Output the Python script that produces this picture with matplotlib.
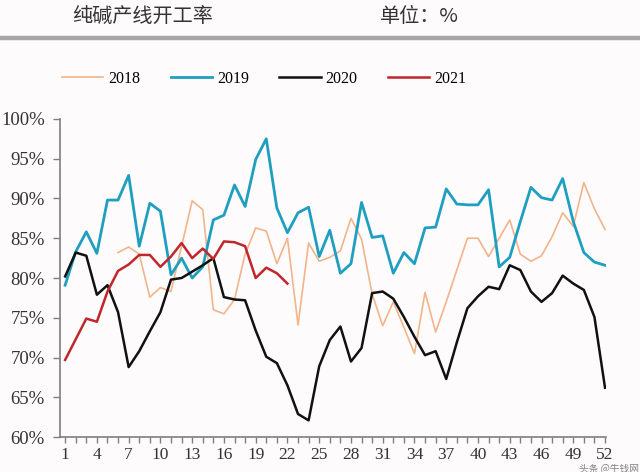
""" 纯碱产线开工率: weekly soda ash line utilisation, 2018-2021 """

import numpy as np
import matplotlib.pyplot as plt
from matplotlib.patches import Rectangle

plt.rcParams['font.family'] = ['Liberation Serif', 'DejaVu Serif']
CJK = ['Noto Sans CJK SC', 'DejaVu Sans']

# ---- data -------------------------------------------------------------
weeks = np.arange(1, 53)
week_ticks = list(range(1, 53, 3))

rate_2018 = [np.nan] * 5 + [
    83.2, 83.9, 83.0, 77.6, 78.8, 78.3, 84.0, 89.7, 88.6, 76.0,
    75.5, 77.3, 83.0, 86.3, 85.9, 81.8, 85.0, 74.1, 84.4, 82.1,
    82.6, 83.4, 87.5, 84.9, 78.0, 74.0, 77.0, 73.8, 70.5, 78.2,
    73.2, 77.0, 81.0, 85.0, 85.0, 82.7, 85.0, 87.3, 83.0, 82.1,
    82.8, 85.2, 88.2, 86.5, 92.0, 88.7, 86.1]

rate_2019 = [
    79.1, 83.3, 85.8, 83.1, 89.8, 89.8, 92.9, 84.0, 89.4, 88.4,
    80.4, 82.5, 80.0, 81.4, 87.3, 87.9, 91.7, 89.0, 94.9, 97.5,
    88.8, 85.7, 88.2, 88.9, 82.7, 86.0, 80.6, 81.8, 89.5, 85.1,
    85.3, 80.6, 83.2, 81.8, 86.3, 86.4, 91.2, 89.3, 89.2, 89.2,
    91.1, 81.4, 82.6, 87.1, 91.4, 90.1, 89.8, 92.5, 87.1, 83.2,
    82.0, 81.6]

rate_2020 = [
    80.2, 83.2, 82.8, 77.9, 79.1, 75.7, 68.8, 70.8, 73.3, 75.7,
    79.8, 80.0, 80.8, 81.6, 82.5, 77.6, 77.3, 77.2, 73.4, 70.1,
    69.3, 66.5, 62.9, 62.1, 68.9, 72.2, 73.9, 69.5, 71.2, 78.1,
    78.3, 77.4, 75.1, 72.6, 70.3, 70.8, 67.3, 71.9, 76.2, 77.7,
    78.9, 78.6, 81.6, 81.0, 78.3, 77.0, 78.1, 80.3, 79.3, 78.5,
    75.1, 66.2]

rate_2021 = [
    69.7, 72.3, 74.9, 74.5, 78.3, 80.9, 81.7, 82.9, 82.9, 81.4,
    82.7, 84.4, 82.5, 83.7, 82.4, 84.6, 84.5, 84.0, 80.0, 81.3,
    80.6, 79.3]

series = [('2018', rate_2018, '#F2B48A', 1.2),
          ('2019', rate_2019, '#1E9FC0', 2.0),
          ('2020', rate_2020, '#111111', 1.8),
          ('2021', rate_2021, '#C0262C', 1.8)]

# ---- figure ------------------------------------------------------------
fig = plt.figure(figsize=(6.4, 4.72), dpi=100, facecolor='#FDFBFC')
ax = fig.add_axes([0.094, 0.074, 0.853, 0.674], facecolor='#FDFBFC')

lines = []
for label, vals, color, lw in series:
    ln, = ax.plot(weeks[:len(vals)], vals, color=color, lw=lw, label=label)
    lines.append(ln)

ax.set_xlim(0.53, 52.1)
ax.set_ylim(60, 100)
ax.set_yticks(range(60, 101, 5))
ax.set_yticklabels([f'{v}%' for v in range(60, 101, 5)], fontsize=13.5)
ax.set_xticks(week_ticks)
ax.set_xticklabels([str(w) for w in week_ticks], fontsize=12.5)
ax.set_xticks(weeks, minor=True)

for side in ['top', 'right']:
    ax.spines[side].set_visible(False)
for side in ['left', 'bottom']:
    ax.spines[side].set_color('#7F7F7F')
    ax.spines[side].set_linewidth(1.2)
ax.tick_params(axis='both', which='both', color='#7F7F7F', width=1.0,
               colors='#333333', direction='out')
ax.tick_params(axis='y', length=5, pad=6)
ax.tick_params(axis='x', which='both', length=4, pad=3)

# header: title, unit and grey rule
fig.text(72 / 640, 1 - 16 / 472, '纯碱产线开工率', family=CJK, fontsize=14.5,
         color='#333333', va='center', ha='left')
fig.text(380 / 640, 1 - 16 / 472, '单位：%', family=CJK, fontsize=14.5,
         color='#333333', va='center', ha='left')
fig.add_artist(plt.Line2D([0, 1], [1 - 37.5 / 472] * 2, color='#A6A6A6',
                          lw=3.2, transform=fig.transFigure))
fig.add_artist(Rectangle((28 / 640, 1 - 39 / 472), 6 / 640, 3 / 472,
                         facecolor='white', edgecolor='none',
                         transform=fig.transFigure))

fig.legend(handles=lines, loc='center', bbox_to_anchor=(264 / 640, 1 - 79 / 472),
           ncol=4, frameon=False, fontsize=11.5, handlelength=2.6,
           handletextpad=0.3, columnspacing=1.9)

# watermark, kept clear of the week labels
fig.text(639 / 640, 1 - 468.5 / 472, '头条 @牛钱网', family=CJK, fontsize=7,
         color='#666666', alpha=0.8, ha='right', va='center')

fig.savefig('out.png', dpi=100, facecolor=fig.get_facecolor())
